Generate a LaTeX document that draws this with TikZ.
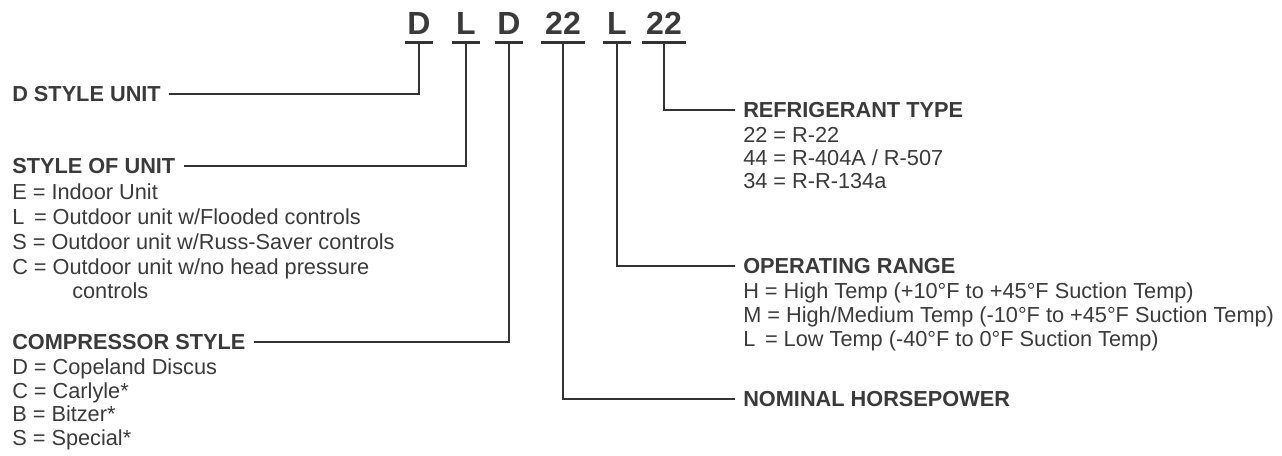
\documentclass[tikz,border=0pt]{standalone}
\usepackage{fontspec}
\setmainfont{Liberation Sans}
\usepackage{tikz}

\definecolor{inkgray}{HTML}{3A3A3A}
\definecolor{linegray}{HTML}{333333}

\tikzset{
  code/.style={anchor=base, inner xsep=0pt, inner ysep=6pt, minimum width=21pt, font=\fontsize{24}{27}\selectfont\bfseries, text=inkgray},
  codewide/.style={code, minimum width=33pt},
  head/.style={anchor=base west, inner sep=0pt, font=\fontsize{16.3}{18}\selectfont\bfseries, text=inkgray},
  entry/.style={anchor=base west, inner sep=0pt, font=\fontsize{16.3}{18}\selectfont, text=inkgray},
  uline/.style={draw=linegray, line width=2pt},
  leader/.style={draw=linegray, line width=1.5pt},
}

\begin{document}
\begin{tikzpicture}[x=0.75pt,y=0.75pt,yscale=-1,xscale=1]
\useasboundingbox (0,0) rectangle (1282,455);

% Code letters
\node[code] (cD1) at (419,34) {D};
\node[code] (cL1) at (466,34) {L};
\node[code] (cD2) at (509,34) {D};
\node[codewide] (cHP) at (563,34) {22};
\node[code] (cL2) at (617,34) {L};
\node[codewide] (cRT) at (664,34) {22};

% Underlines
\foreach \n in {cD1,cL1,cD2,cHP,cL2,cRT}
  \draw[uline] (\n.south west) -- (\n.south east);

% Text Node
\node[head] (dsu) at (12,101.6) {D STYLE UNIT};

% Text Node
\node[head] (sou) at (12,173.6) {STYLE OF UNIT};
\node[entry] (sou1) at (12,199.6) {E = Indoor Unit};
\node[entry] (sou2) at (12,224.6) {L\, = Outdoor unit w/Flooded controls};
\node[entry] (sou3) at (12,249.6) {S = Outdoor unit w/Russ-Saver controls};
\node[entry] (sou4) at (12,274.6) {C = Outdoor unit w/no head pressure};
\node[entry] (sou5) at (72,298.6) {controls};

% Text Node
\node[head] (cs) at (12,349.6) {COMPRESSOR STYLE};
\node[entry] (cs1) at (12,374.6) {D = Copeland Discus};
\node[entry] (cs2) at (12,398.1) {C = Carlyle*};
\node[entry] (cs3) at (12,421.6) {B = Bitzer*};
\node[entry] (cs4) at (12,445.1) {S = Special*};

% Text Node
\node[head] (rt) at (743,117.6) {REFRIGERANT TYPE};
\node[entry] (rt1) at (743,142.1) {22 = R-22};
\node[entry] (rt2) at (743,165.6) {44 = R-404A / R-507};
\node[entry] (rt3) at (743,188.6) {34 = R-R-134a};

% Text Node
\node[head] (op) at (743,273.6) {OPERATING RANGE};
\node[entry] (op1) at (743,298.6) {H = High Temp (+10°F to +45°F Suction Temp)};
\node[entry] (op2) at (743,322.6) {M = High/Medium Temp (-10°F to +45°F Suction Temp)};
\node[entry] (op3) at (743,346.6) {L\ \,= Low Temp (-40°F to 0°F Suction Temp)};

% Text Node
\node[head] (hp) at (743,406.6) {NOMINAL HORSEPOWER};

% Leaders
\draw[leader] (cD1.south) |- ([xshift=6pt]dsu.east);
\draw[leader] (cL1.south) |- ([xshift=6pt]sou.east);
\draw[leader] (cD2.south) |- ([xshift=6pt]cs.east);
\draw[leader] (cHP.south) |- ([xshift=-6pt]hp.west);
\draw[leader] (cL2.south) |- ([xshift=-6pt]op.west);
\draw[leader] (cRT.south) |- ([xshift=-6pt]rt.west);

\end{tikzpicture}
\end{document}
